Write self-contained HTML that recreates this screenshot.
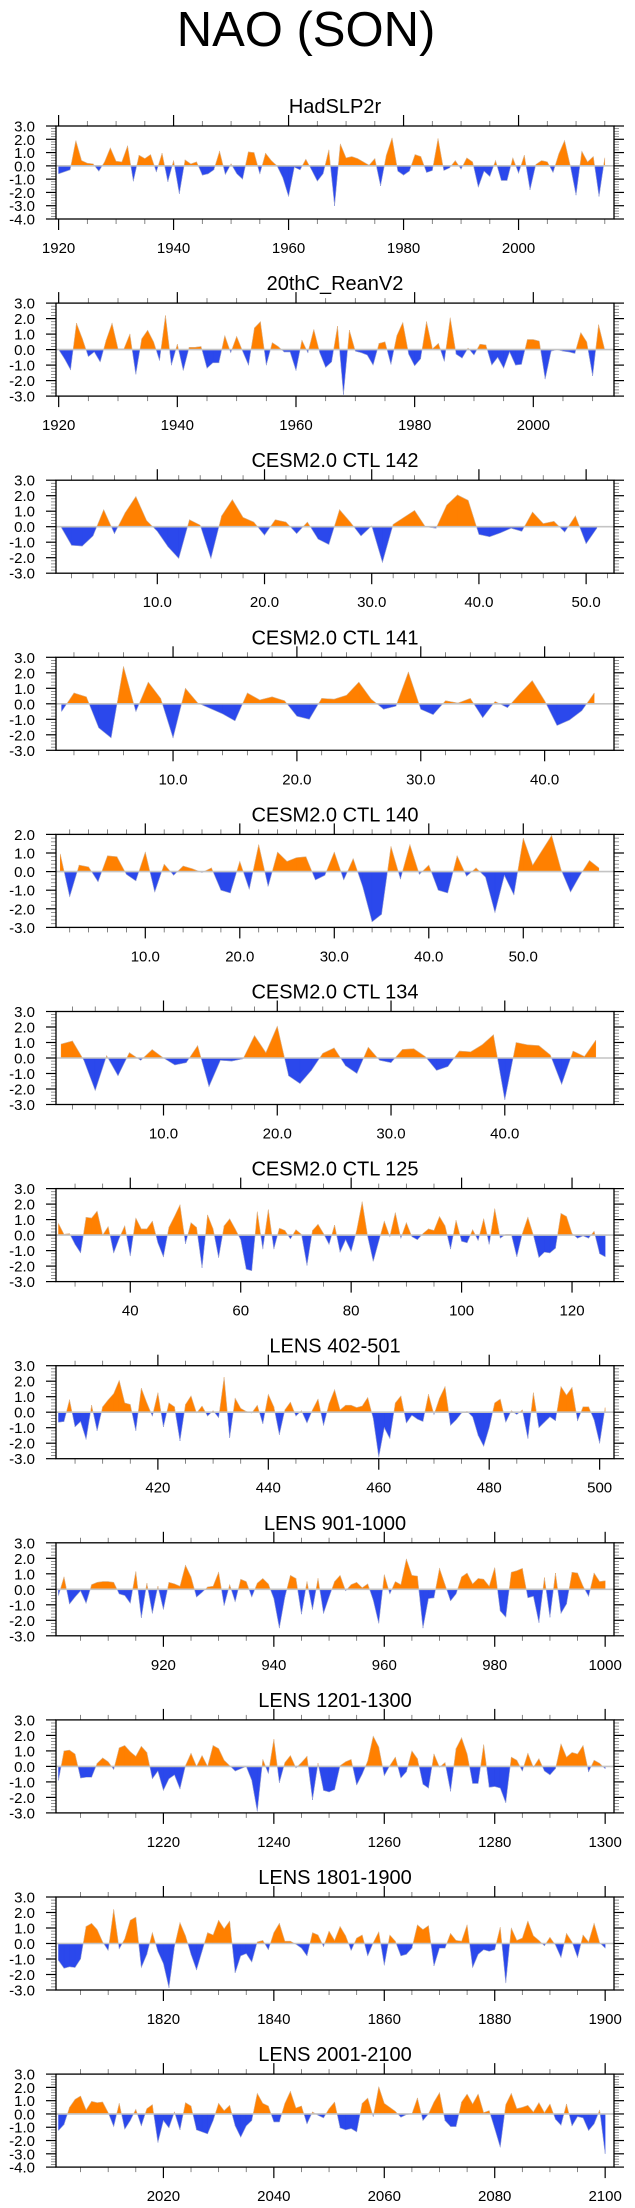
<!DOCTYPE html>
<html><head><meta charset="utf-8"><title>NAO (SON)</title>
<style>
html,body{margin:0;padding:0;background:#fff;}
svg{display:block;font-family:"Liberation Sans",Arial,sans-serif;}
</style></head>
<body>
<svg id="chart" width="635" height="2208" viewBox="0 0 635 2208" xmlns="http://www.w3.org/2000/svg">
<rect x="0" y="0" width="635" height="2208" fill="#fff"/>
<text x="306" y="46" text-anchor="middle" font-size="49" fill="#000">NAO (SON)</text>
</svg>
<script>
const panelTitles = ["HadSLP2r","20thC_ReanV2","CESM2.0 CTL 142","CESM2.0 CTL 141","CESM2.0 CTL 140","CESM2.0 CTL 134","CESM2.0 CTL 125","LENS 402-501","LENS 901-1000","LENS 1201-1300","LENS 1801-1900","LENS 2001-2100"];
const panelStarts = [1920,1920,1,1,1,1,27,402,901,1201,1801,2001];
const yMaxs = [3,3,3,3,2,3,3,3,3,3,3,3];
const yMins = [-4,-3,-3,-3,-3,-3,-3,-3,-3,-3,-3,-4];
const xMajorSteps = [20,20,10,10,10,10,20,20,20,20,20,20];
const xMinorSteps = [5,5,2,2,2,2,5,5,5,5,5,5];
const xLabelDecimals = [0,0,1,1,1,1,0,0,0,0,0,0];

const hadslp2r = [-0.6,-0.45,-0.3,1.9,0.4,0.2,0.15,-0.4,0.3,1.35,
0.35,0.3,1.5,-1.15,0.8,0.55,0.85,-0.45,0.95,-1.2,
0.4,-2.1,0.45,0.15,0.3,-0.7,-0.6,-0.3,1.1,-0.65,
0.15,-0.6,-1.0,1.05,1.0,-0.6,0.95,0.4,0.0,-0.9,
-2.3,-0.1,-0.3,0.5,-0.3,-1.15,-0.6,1.2,-3.0,1.65,
0.6,0.7,0.55,0.3,0.05,0.55,-1.5,0.8,2.1,-0.4,
-0.7,-0.4,0.85,0.7,-0.5,-0.35,2.05,-0.35,-0.15,0.4,
-0.25,0.6,0.3,-1.6,-0.4,-0.8,0.4,-1.1,-1.1,0.6,
-0.55,0.8,-1.8,0.1,0.4,0.3,-0.5,0.9,1.9,0.0,
-2.2,1.1,0.3,0.7,-2.3,0.6];
const reanV2 = [0,-0.6,-1.3,1.7,0.7,-0.45,-0.15,-0.8,0.6,1.7,
0.05,0.05,1.0,-1.6,0.7,1.25,0.5,-0.7,2.2,-1.0,
0.35,-1.35,0.15,0.15,0.2,-1.2,-0.85,-0.85,0.9,-0.2,
0.85,-0.1,-1.0,1.4,1.8,-1.0,0.45,0.2,-0.15,-0.15,
-1.35,0.6,-0.2,1.3,-0.2,-1.15,-0.8,1.5,-2.9,1.25,
-0.1,-0.2,-0.35,-1.0,0.4,0.5,-0.95,0.9,1.75,-0.3,
-1.05,-0.6,1.8,0.05,0.4,-0.75,2.05,-0.3,-0.55,0.1,
-0.35,0.35,0.3,-1.0,-0.5,-1.2,-0.15,-1.0,-0.95,0.65,
0.65,0.55,-1.9,-0.1,0.0,-0.1,-0.15,-0.25,1.1,0.5,
-1.7,1.6,0.05];
const ctl142 = [0.0,-1.2,-1.25,-0.6,1.1,-0.45,0.9,1.95,0.4,-0.3,
-1.3,-2.05,0.45,0.1,-2.05,0.7,1.75,0.6,0.3,-0.55,
0.45,0.3,-0.45,0.3,-0.8,-1.15,1.1,0.3,-0.6,0.05,
-2.3,0.15,0.6,1.05,0.0,-0.1,1.4,2.05,1.7,-0.5,
-0.65,-0.4,-0.1,-0.3,0.95,0.2,0.35,-0.35,0.7,-1.1,-0.1];
const ctl141 = [-0.5,0.7,0.45,-1.55,-2.2,2.4,-0.5,1.4,0.35,-2.2,
1.0,0.05,-0.3,-0.65,-1.1,0.7,0.25,0.45,0.2,-0.8,
-1.0,0.35,0.3,0.55,1.4,0.3,-0.35,-0.15,2.05,-0.35,
-0.7,0.2,0.05,0.35,-0.9,0.15,-0.25,0.65,1.5,0.2,
-1.4,-1.05,-0.45,0.7];
const ctl140 = [0.95,-1.35,0.35,0.25,-0.55,0.85,0.8,-0.15,-0.5,1.05,
-1.1,0.4,-0.2,0.3,0.15,-0.05,0.2,-1.0,-1.15,0.55,
-0.95,1.45,-0.8,1.05,0.55,0.75,0.8,-0.45,-0.2,1.05,
-0.45,0.7,-0.8,-2.7,-2.3,1.35,-0.4,1.45,-0.15,0.35,
-1.0,-1.15,0.85,-0.25,0.2,-0.3,-2.2,-0.2,-1.25,1.8,
0.35,1.15,1.95,0.1,-1.1,-0.2,0.6,0.2];
const ctl134 = [0.9,1.1,-0.15,-2.1,0.15,-1.15,0.35,-0.15,0.55,0.0,
-0.45,-0.3,0.8,-1.85,-0.15,-0.2,-0.05,1.45,0.35,2.05,
-1.15,-1.65,-0.8,0.3,0.65,-0.5,-1.0,0.7,-0.15,-0.3,
0.55,0.6,0.1,-0.8,-0.55,0.45,0.4,0.85,1.5,-2.7,
1.0,0.85,0.8,0.2,-1.7,0.45,0.1,1.15];
const ctl125 = [0.75,0.05,0.1,-0.6,-1.15,1.15,1.1,1.55,0.0,0.55,
-1.15,-0.2,0.6,-1.35,1.1,0.4,0.4,0.9,-0.5,-1.4,
0.5,1.2,1.95,-0.55,0.8,0.5,-2.1,1.3,0.4,-1.45,
0.6,1.05,0.4,-0.3,-2.2,-2.3,1.5,-0.9,1.65,-0.9,
0.45,0.3,-0.25,0.35,0.05,-1.95,0.3,0.7,0.1,-0.6,
0.65,-1.1,-0.3,-1.05,0.3,2.15,-0.1,-1.7,-0.4,0.9,
-0.1,1.45,-0.2,0.8,-0.1,-0.3,0.1,0.4,0.3,1.2,
0.6,-0.9,0.95,-0.4,-0.5,0.35,-0.35,1.05,-0.6,1.7,
-0.2,0.05,0.05,-1.4,0.1,1.15,0.0,-1.45,-1.1,-1.15,
-0.85,1.4,1.2,0.1,-0.2,-0.05,-0.2,0.25,-1.2,-1.4];
const lens402 = [-0.65,-0.6,0.8,-0.95,-0.6,-1.75,0.45,-1.2,0.35,0.8,
1.2,2.05,0.6,0.5,-1.2,1.55,0.6,-0.25,1.25,-0.95,
0.6,0.35,-1.85,0.5,1.05,-0.05,0.4,-0.25,0.1,-0.35,
2.25,-1.65,0.9,0.25,0.05,-0.05,0.45,-0.75,1.15,0.35,
-1.45,0.15,0.65,-0.25,0.1,-0.7,0.15,0.85,-0.85,0.55,
1.45,0.15,0.45,0.45,0.3,0.4,0.95,-0.4,-2.9,-1.0,
-1.7,0.6,1.05,-0.7,-0.2,-0.45,-0.6,1.15,-0.15,0.9,
1.65,-0.85,-0.5,-0.05,0.05,-0.3,-1.5,-2.2,-1.0,0.6,
0.85,-0.65,0.1,-0.15,0.15,-1.7,1.25,-1.0,-0.65,-0.3,
-0.55,1.65,1.1,1.6,-0.55,0.35,0.35,-0.5,-2.0,0.3];
const lens901 = [-0.4,0.8,-0.95,-0.5,-0.1,-0.9,0.3,0.45,0.5,0.5,
0.45,-0.3,-0.4,-0.9,1.15,-1.85,0.4,-1.55,0.2,-1.3,
0.45,0.35,0.2,1.55,0.8,-0.5,-0.2,0.15,0.2,1.1,
-1.05,0.3,-0.8,0.65,0.5,-0.5,0.4,0.7,0.35,-0.6,
-2.5,-0.5,0.9,0.7,-1.6,0.5,-1.3,0.7,-1.55,-0.5,
0.5,0.9,-0.1,0.3,0.45,0.1,0.35,-0.7,-2.2,0.95,
-0.3,0.5,0.3,1.95,0.9,0.85,-2.5,-0.6,-0.55,1.35,
0.3,-0.75,-0.3,0.8,1.05,0.35,0.7,0.65,0.2,1.4,
-1.4,-1.8,1.1,1.2,1.35,-0.55,-0.45,-2.15,0.75,-1.8,
1.05,-1.55,-0.95,1.1,1.05,0.2,-0.45,1.05,0.5,0.55];
const lens1201 = [-0.9,1.0,1.05,0.8,-0.75,-0.7,-0.7,0.2,0.55,0.3,
-0.2,1.2,1.35,0.95,0.65,1.3,0.9,-0.8,-0.3,-1.55,
-0.8,-0.55,-1.45,0.05,0.85,0.0,0.7,0.0,1.35,1.15,
0.4,0.05,-0.3,-0.15,0.0,-0.9,-2.9,0.45,-0.45,1.75,
-1.05,0.25,0.7,-0.1,0.25,0.65,-2.15,0.2,-1.55,-1.65,
-1.5,0.05,0.3,0.45,-1.2,-0.5,0.35,1.95,1.25,-0.6,
0.05,0.6,-0.75,-0.35,1.0,0.5,-1.15,-1.4,0.8,-0.05,
0.25,-1.6,1.15,1.85,0.8,-1.1,-1.1,1.4,-1.35,-1.3,
-1.4,-2.35,0.6,0.4,-0.3,0.85,-0.05,0.5,-0.3,-0.55,
-0.15,1.45,0.6,0.9,0.8,1.35,-0.35,0.4,0.2,-0.15];
const lens1801 = [-1.1,-1.6,-1.5,-1.55,-1.0,1.1,1.3,0.9,0.1,-0.45,
2.2,-0.35,0.3,1.5,1.7,-1.55,-0.7,0.7,-0.5,-1.3,
-2.85,-0.2,1.35,0.5,-0.7,-1.7,-0.5,0.7,0.55,1.5,
0.95,1.45,-1.9,-0.8,-0.65,-1.2,0.1,0.2,-0.4,0.7,
1.3,0.15,0.15,-0.05,-0.3,-0.8,0.7,0.55,-0.2,0.8,
0.2,1.1,0.5,-0.45,0.35,0.55,-0.8,0.05,0.75,-1.4,
0.55,0.15,-0.8,-0.7,-0.3,1.2,0.9,1.15,-1.45,-0.3,
-0.3,0.65,0.2,0.15,1.2,-1.55,-0.7,-0.4,-0.5,-0.4,
1.05,-2.55,1.0,0.2,0.35,1.45,0.5,0.2,-0.15,0.4,
-0.1,-0.9,0.65,0.1,-0.9,0.55,0.1,1.3,0.05,-0.3];
const lens2001 = [-1.25,-0.8,0.5,1.1,1.35,0.3,0.95,0.85,0.9,0.1,
-0.95,0.8,-1.15,-0.5,0.35,-0.9,0.4,0.7,-2.15,-0.5,
-1.05,0.15,-1.2,0.85,0.6,-1.2,-1.35,-1.5,-0.5,0.8,
0.25,0.65,-0.9,-1.75,-0.9,-0.5,1.55,0.8,0.6,-0.6,
-0.6,0.8,1.7,0.45,0.6,-0.75,0.15,-0.1,-0.3,0.4,
0.9,-1.05,-1.2,-1.1,-1.35,0.8,1.2,-0.2,2.05,0.8,
0.5,0.2,-0.25,-0.05,0.0,1.2,-0.5,0.0,0.9,1.6,
-0.5,-0.95,-0.95,0.9,1.5,0.75,1.5,0.1,0.25,-1.1,
-2.5,0.7,1.55,0.4,0.5,0.65,0.15,0.85,0.1,0.75,
-0.4,-0.85,0.75,-0.9,-0.2,-0.3,-1.25,-0.75,0.3,-3.0];
const panelSeries = [hadslp2r,reanV2,ctl142,ctl141,ctl140,ctl134,ctl125,lens402,lens901,lens1201,lens1801,lens2001];

const NS = "http://www.w3.org/2000/svg";
const svg = document.getElementById("chart");
const BOX_L = 56, BOX_R = 614, BOX_H = 93, TOP0 = 126, PITCH = 177.1;
const ORANGE = "#ff8000", BLUE = "#2b48ec";

function mk(tag, attrs, parent) {
  const e = document.createElementNS(NS, tag);
  for (const k in attrs) e.setAttribute(k, attrs[k]);
  (parent || svg).appendChild(e);
  return e;
}
function slug(s){return s.toLowerCase().replace(/[^a-z0-9]+/g,"-").replace(/^-|-$/g,"");}

panelTitles.forEach(function(title, p) {
  const vals = panelSeries[p];
  const x0 = panelStarts[p];
  const x1 = x0 + vals.length - 1;
  const xmin = x0 - 0.45, xmax = x1 + 1.6;
  const top = TOP0 + PITCH * p, bot = top + BOX_H;
  const ymax = yMaxs[p], ymin = yMins[p];
  const X = v => BOX_L + (v - xmin) / (xmax - xmin) * (BOX_R - BOX_L);
  const Y = v => top + (ymax - v) / (ymax - ymin) * BOX_H;
  const g = mk("g", {});
  
  

  const t = mk("text", {x: (BOX_L + BOX_R) / 2, y: top - 13, "text-anchor": "middle", "font-size": 20, fill: "#000"}, g);
  t.textContent = title;
  
  

  // fills
  let pos = "", neg = "";
  const y0 = Y(0);
  for (let i = 0; i < vals.length - 1; i++) {
    const a = vals[i], b = vals[i + 1];
    const xa = X(x0 + i), xb = X(x0 + i + 1);
    if (a >= 0 && b >= 0) {
      pos += "M" + xa + "," + y0 + "L" + xa + "," + Y(a) + "L" + xb + "," + Y(b) + "L" + xb + "," + y0 + "Z";
    } else if (a <= 0 && b <= 0) {
      neg += "M" + xa + "," + y0 + "L" + xa + "," + Y(a) + "L" + xb + "," + Y(b) + "L" + xb + "," + y0 + "Z";
    } else {
      const xc = xa + (xb - xa) * a / (a - b);
      const first = "M" + xa + "," + y0 + "L" + xa + "," + Y(a) + "L" + xc + "," + y0 + "Z";
      const second = "M" + xc + "," + y0 + "L" + xb + "," + Y(b) + "L" + xb + "," + y0 + "Z";
      if (a > 0) { pos += first; neg += second; } else { neg += first; pos += second; }
    }
  }
  const fp = mk("path", {d: pos, fill: ORANGE, stroke: ORANGE, "stroke-width": 0.4}, g);
  
  
  const fn = mk("path", {d: neg, fill: BLUE, stroke: BLUE, "stroke-width": 0.4}, g);
  
  
  let ld = "";
  vals.forEach((v, i) => { ld += (i ? "L" : "M") + X(x0 + i) + "," + Y(v); });
  const ln = mk("path", {d: ld, fill: "none", stroke: "#c8c8c8", "stroke-width": 0.6, "stroke-opacity": 0.7}, g);
  
  

  const zl = mk("line", {x1: BOX_L, x2: BOX_R, y1: y0, y2: y0, stroke: "#c4c4c4", "stroke-width": 1.6}, g);
  
  

  // y ticks
  for (let k = Math.round(ymin * 5); k <= Math.round(ymax * 5); k++) {
    const v = k / 5, yy = Y(v), major = (k % 5 === 0);
    const len = major ? 10 : 5, col = major ? "#000" : "#777";
    mk("line", {x1: BOX_L - len, x2: BOX_L, y1: yy, y2: yy, stroke: col, "stroke-width": major ? 1.2 : 0.8}, g);
    mk("line", {x1: BOX_R, x2: BOX_R + len, y1: yy, y2: yy, stroke: col, "stroke-width": major ? 1.2 : 0.8}, g);
    if (major) {
      const yt = mk("text", {x: 35, y: yy + 5.5, "text-anchor": "end", "font-size": 15, fill: "#000"}, g);
      yt.textContent = v.toFixed(1);
      
      
    }
  }
  // x ticks
  const mstep = xMinorSteps[p], Mstep = xMajorSteps[p];
  for (let v = Math.ceil(xmin / mstep) * mstep; v <= xmax; v += mstep) {
    const xx = X(v), major = (v % Mstep === 0);
    const len = major ? 11 : 5, col = major ? "#000" : "#666";
    mk("line", {x1: xx, x2: xx, y1: top - len, y2: top, stroke: col, "stroke-width": major ? 1.2 : 0.8}, g);
    mk("line", {x1: xx, x2: xx, y1: bot, y2: bot + len, stroke: col, "stroke-width": major ? 1.2 : 0.8}, g);
    if (major) {
      const xt = mk("text", {x: xx, y: bot + 34, "text-anchor": "middle", "font-size": 15, fill: "#000"}, g);
      xt.textContent = v.toFixed(xLabelDecimals[p]);
      
      
    }
  }
  const box = mk("rect", {x: BOX_L, y: top, width: BOX_R - BOX_L, height: BOX_H, fill: "none", stroke: "#000", "stroke-width": 1.3}, g);
  
  
});
</script>
</body></html>
